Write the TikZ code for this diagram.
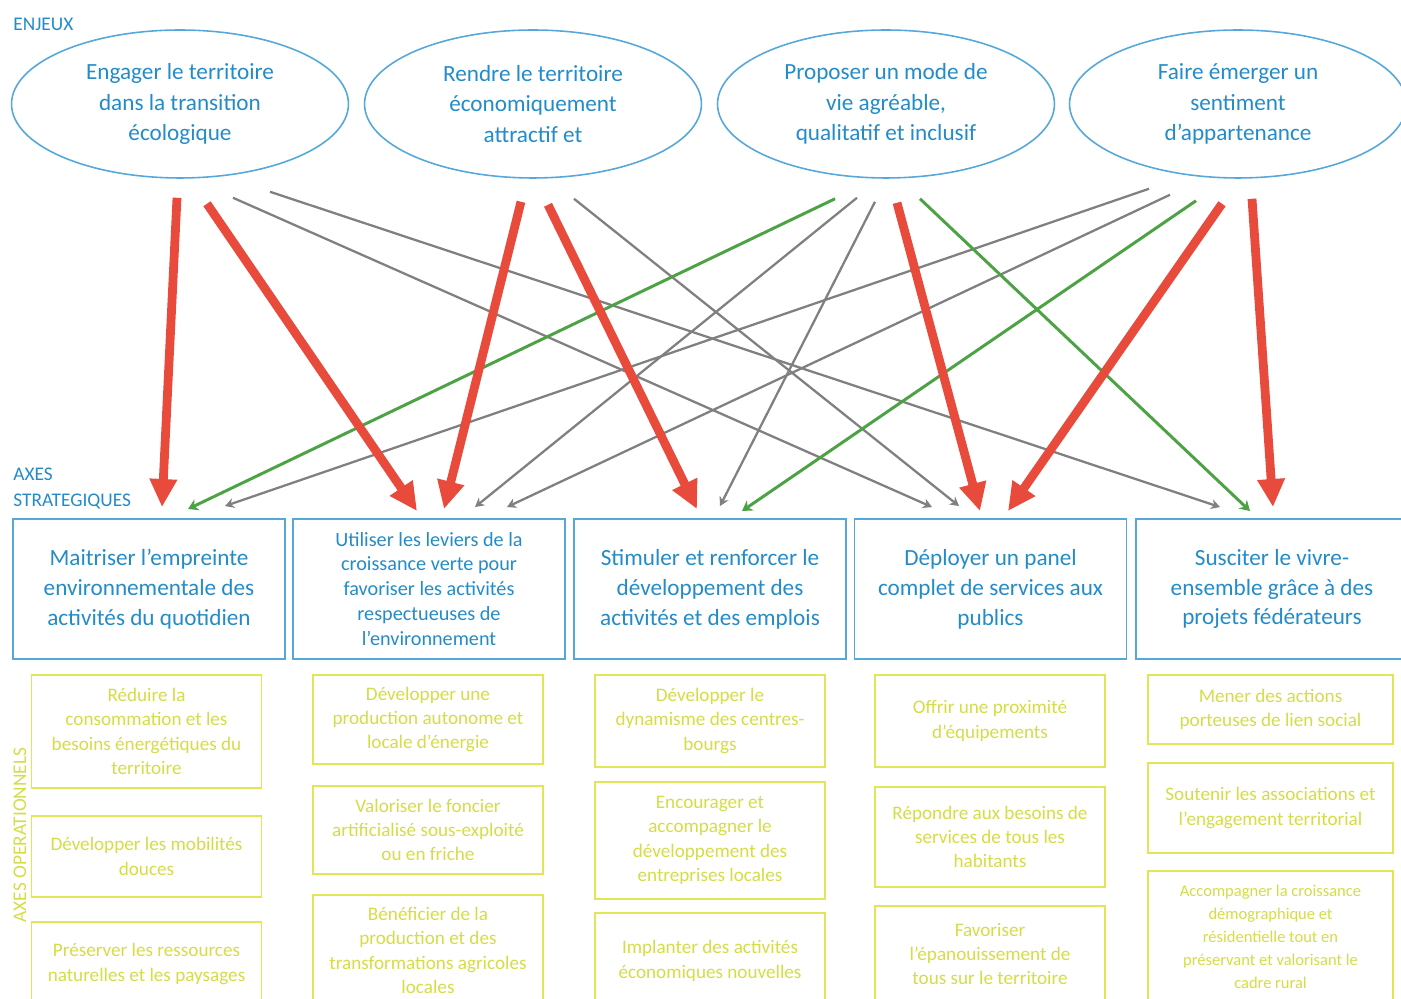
\documentclass[tikz,border=0pt]{standalone}
\usepackage{fontspec}
\setmainfont{Carlito}
\usetikzlibrary{shapes.geometric,arrows.meta}
\definecolor{enjblue}{RGB}{85,168,218}
\definecolor{txtblue}{RGB}{35,140,200}
\definecolor{opyellow}{RGB}{224,230,85}
\definecolor{optext}{RGB}{212,220,70}
\definecolor{lnkred}{RGB}{232,74,60}
\definecolor{lnkgreen}{RGB}{78,162,70}
\definecolor{lnkgray}{RGB}{128,128,128}

\begin{document}
\begin{tikzpicture}[x=0.02cm, y=-0.02cm,
    enjeu/.style={ellipse, draw=enjblue, line width=0.9pt, minimum width=6.74cm, minimum height=2.96cm,
      inner sep=0pt, align=center, text=txtblue, font=\fontsize{13.2}{17.4}\selectfont},
    axe/.style={rectangle, draw=enjblue, line width=1.1pt, minimum width=5.44cm, minimum height=2.8cm,
      inner sep=0pt, align=center, text=txtblue, font=\fontsize{13.2}{17}\selectfont},
    oper/.style={rectangle, draw=opyellow, line width=0.9pt, minimum width=4.6cm, inner sep=0pt,
      align=center, text=optext, font=\fontsize{10.9}{13.9}\selectfont},
    titre/.style={text=txtblue, font=\fontsize{11}{14.8}\selectfont, align=left, inner sep=0pt},
    fort/.style={draw=lnkred, line width=5pt, -{Triangle[width=0.52cm,length=0.56cm]}},
    moyen/.style={draw=lnkgreen, line width=1.7pt, -{Stealth[width=0.24cm,length=0.2cm]}},
    faible/.style={draw=lnkgray, line width=1.3pt, -{Stealth[width=0.2cm,length=0.18cm]}}]
  \path[use as bounding box, clip] (0,0) rectangle (1401,999);

  % enjeux
  \node[titre, anchor=west] (t1) at (13,24) {ENJEUX};
  \node[enjeu] (e1) at (180,104) {Engager le territoire\\dans la transition\\écologique};
  \node[enjeu] (e2) at (533,104) {Rendre le territoire\\économiquement\\attractif et};
  \node[enjeu] (e3) at (886,104) {Proposer un mode de\\vie agréable,\\qualitatif et inclusif};
  \node[enjeu] (e4) at (1238,104) {Faire émerger un\\sentiment\\d’appartenance};

  % axes strategiques
  \node[titre, anchor=west] (t2) at (13,489) {AXES\\STRATEGIQUES};
  \node[axe] (s1) at (149,589) {Maitriser l’empreinte\\environnementale des\\activités du quotidien};
  \node[axe, font=\fontsize{11.5}{14.2}\selectfont] (s2) at (429,589) {Utiliser les leviers de la\\croissance verte pour\\favoriser les activités\\respectueuses de\\l’environnement};
  \node[axe] (s3) at (710,589) {Stimuler et renforcer le\\développement des\\activités et des emplois};
  \node[axe] (s4) at (990.5,589) {Déployer un panel\\complet de services aux\\publics};
  \node[axe] (s5) at (1272,589) {Susciter le vivre-\\ensemble grâce à des\\projets fédérateurs};

  % axes operationnels
  \node[titre, text=optext, rotate=90] (t3) at (20,835) {AXES OPERATIONNELS};
  \node[oper, minimum height=2.26cm] (o11) at (146.5,731.5) {Réduire la\\consommation et les\\besoins énergétiques du\\territoire};
  \node[oper, minimum height=1.62cm] (o12) at (146.5,856.5) {Développer les mobilités\\douces};
  \node[oper, minimum height=1.68cm] (o13) at (146.5,964) {Préserver les ressources\\naturelles et les paysages};
  \node[oper, minimum height=1.78cm] (o21) at (428,719.5) {Développer une\\production autonome et\\locale d’énergie};
  \node[oper, minimum height=1.76cm] (o22) at (428,830) {Valoriser le foncier\\artificialisé sous-exploité\\ou en friche};
  \node[oper, minimum height=2.22cm] (o23) at (428,950.5) {Bénéficier de la\\production et des\\transformations agricoles\\locales};
  \node[oper, minimum height=1.84cm] (o31) at (710,721) {Développer le\\dynamisme des centres-\\bourgs};
  \node[oper, minimum height=2.34cm] (o32) at (710,840.5) {Encourager et\\accompagner le\\développement des\\entreprises locales};
  \node[oper, minimum height=1.92cm] (o33) at (710,961) {Implanter des activités\\économiques nouvelles};
  \node[oper, minimum height=1.84cm] (o41) at (990,721) {Offrir une proximité\\d’équipements};
  \node[oper, minimum height=2.0cm] (o42) at (990,837) {Répondre aux besoins de\\services de tous les\\habitants};
  \node[oper, minimum height=1.92cm] (o43) at (990,954) {Favoriser\\l’épanouissement de\\tous sur le territoire};
  \node[oper, minimum width=4.9cm, minimum height=1.38cm] (o51) at (1270.5,709.5) {Mener des actions\\porteuses de lien social};
  \node[oper, minimum width=4.9cm, minimum height=1.8cm] (o52) at (1270.5,808) {Soutenir les associations et\\l’engagement territorial};
  \node[oper, minimum width=4.9cm, minimum height=2.64cm, font=\fontsize{9.4}{13.1}\selectfont] (o53) at (1270.5,937) {Accompagner la croissance\\démographique et\\résidentielle tout en\\préservant et valorisant le\\cadre rural};

  % liens faibles
  \draw[faible] ([shift={(53,19)}]e1.south) -- ([shift={(-58.5,-11)}]s4.north);
  \draw[faible] ([shift={(90,13)}]e1.south) -- ([shift={(-52,-11)}]s5.north);
  \draw[faible] ([shift={(41,20)}]e2.south) -- ([shift={(-31.5,-12)}]s4.north);
  \draw[faible] ([shift={(-29,19)}]e3.south) -- ([shift={(46,-11)}]s2.north);
  \draw[faible] ([shift={(-11,23)}]e3.south) -- ([shift={(10,-12)}]s3.north);
  \draw[faible] ([shift={(-89,10)}]e4.south) -- ([shift={(76,-12)}]s1.north);
  \draw[faible] ([shift={(-68,16)}]e4.south) -- ([shift={(78,-11)}]s2.north);
  % liens moyens
  \draw[moyen] ([shift={(-51,20)}]e3.south) -- ([shift={(39,-9)}]s1.north);
  \draw[moyen] ([shift={(34,20)}]e3.south) -- ([shift={(-22,-7)}]s5.north);
  \draw[moyen] ([shift={(-42,22)}]e4.south) -- ([shift={(32,-7)}]s3.north);
  % liens forts
  \draw[fort] ([shift={(-3,19)}]e1.south) -- ([shift={(13,-11)}]s1.north);
  \draw[fort] ([shift={(27,25)}]e1.south) -- ([shift={(-12,-7)}]s2.north);
  \draw[fort] ([shift={(-12,23)}]e2.south) -- ([shift={(15,-9)}]s2.north);
  \draw[fort] ([shift={(15,26)}]e2.south) -- ([shift={(-13,-9)}]s3.north);
  \draw[fort] ([shift={(11,24)}]e3.south) -- ([shift={(-10.5,-7)}]s4.north);
  \draw[fort] ([shift={(-16,25)}]e4.south) -- ([shift={(17.5,-7)}]s4.north);
  \draw[fort] ([shift={(14,20)}]e4.south) -- ([shift={(1,-11)}]s5.north);
\end{tikzpicture}
\end{document}
